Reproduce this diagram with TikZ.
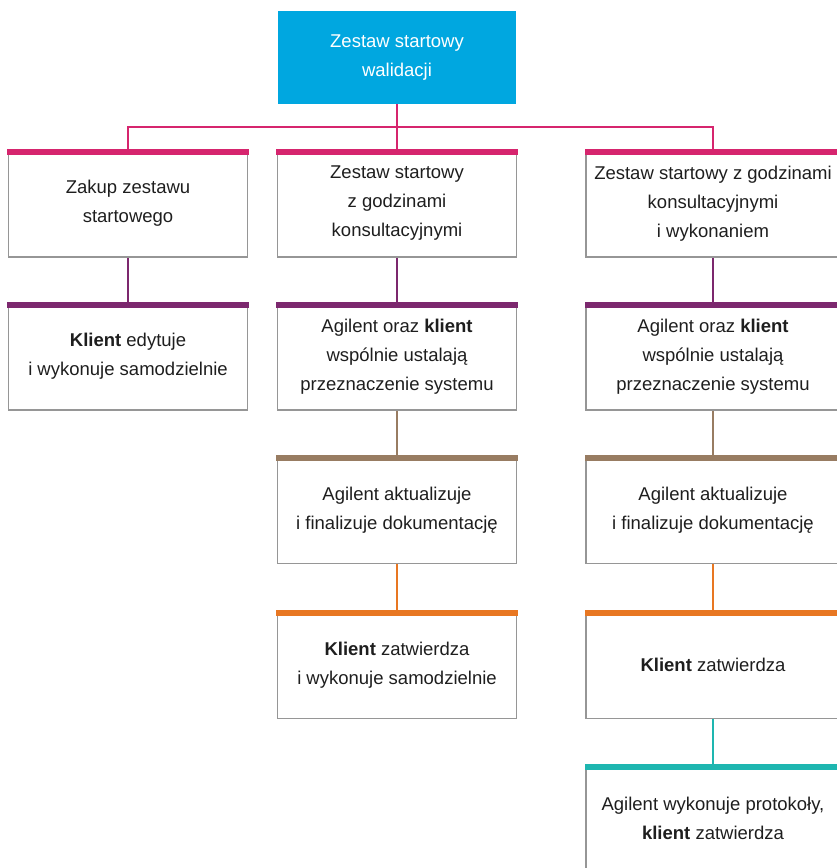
\documentclass[tikz,border=0pt]{standalone}
\usepackage{fontspec}
\setmainfont{Liberation Sans}
\usepackage{tikz}

\definecolor{topblue}{RGB}{0,167,224}
\definecolor{barmagenta}{RGB}{214,37,110}
\definecolor{barpurple}{RGB}{124,40,110}
\definecolor{barbrown}{RGB}{152,124,98}
\definecolor{barorange}{RGB}{232,119,34}
\definecolor{barteal}{RGB}{30,182,176}
\definecolor{boxgray}{RGB}{150,150,150}
\definecolor{textgray}{RGB}{30,30,30}

\begin{document}
\begin{tikzpicture}[x=1pt, y=-1pt,
    box/.style={draw=boxgray, line width=1.5pt, minimum width=239pt, minimum height=107pt,
        inner sep=0pt, align=center, text=textgray, font=\fontsize{18.5}{29}\selectfont},
    widebox/.style={box, minimum width=254pt},
    link/.style={line width=1.8pt}]
        \useasboundingbox (0,0) rectangle (837,868);

        \node[fill=topblue, text=white, minimum width=238pt, minimum height=93pt, align=center,
              inner sep=0pt, font=\fontsize{18.5}{29}\selectfont] (start) at (397,57.5) {Zestaw startowy\\walidacji};

        % left column
        \node[box] (zakup) at (128,203.5) {Zakup zestawu\\startowego};
        \node[box] (zakupKlient) at (128,356.5) {\textbf{Klient} edytuje\\i wykonuje samodzielnie};

        % middle column
        \node[box] (konsult) at (397,203.5) {Zestaw startowy\\z godzinami\\konsultacyjnymi};
        \node[box] (konsultCel) at (397,356.5) {Agilent oraz \textbf{klient}\\wspólnie ustalają\\przeznaczenie systemu};
        \node[box] (konsultDok) at (397,510) {Agilent aktualizuje\\i finalizuje dokumentację};
        \node[box] (konsultKlient) at (397,665) {\textbf{Klient} zatwierdza\\i wykonuje samodzielnie};

        % right column
        \node[widebox] (wykon) at (713,203.5) {Zestaw startowy z godzinami\\konsultacyjnymi\\i wykonaniem};
        \node[widebox] (wykonCel) at (713,356.5) {Agilent oraz \textbf{klient}\\wspólnie ustalają\\przeznaczenie systemu};
        \node[widebox] (wykonDok) at (713,510) {Agilent aktualizuje\\i finalizuje dokumentację};
        \node[widebox] (wykonKlient) at (713,665) {\textbf{Klient} zatwierdza};
        \node[widebox] (wykonProt) at (713,818.5) {Agilent wykonuje protokoły,\\\textbf{klient} zatwierdza};

        % colour bars on top of the boxes
        \foreach \n/\c in {zakup/barmagenta, konsult/barmagenta, wykon/barmagenta,
                           zakupKlient/barpurple, konsultCel/barpurple, wykonCel/barpurple,
                           konsultDok/barbrown, wykonDok/barbrown,
                           konsultKlient/barorange, wykonKlient/barorange,
                           wykonProt/barteal}
            \fill[\c] ([xshift=-0.75pt,yshift=0.75pt]\n.north west) rectangle ([xshift=0.75pt,yshift=-5.5pt]\n.north east);

        % connectors
        \draw[link, barmagenta] (start.south) -- (konsult.north);
        \draw[link, barmagenta] (zakup.north) -- ++(0,-22) -| (wykon.north);
        \draw[link, barpurple] (zakup.south) -- (zakupKlient.north);
        \draw[link, barpurple] (konsult.south) -- (konsultCel.north);
        \draw[link, barpurple] (wykon.south) -- (wykonCel.north);
        \draw[link, barbrown] (konsultCel.south) -- (konsultDok.north);
        \draw[link, barbrown] (wykonCel.south) -- (wykonDok.north);
        \draw[link, barorange] (konsultDok.south) -- (konsultKlient.north);
        \draw[link, barorange] (wykonDok.south) -- (wykonKlient.north);
        \draw[link, barteal] (wykonKlient.south) -- (wykonProt.north);
\end{tikzpicture}
\end{document}
